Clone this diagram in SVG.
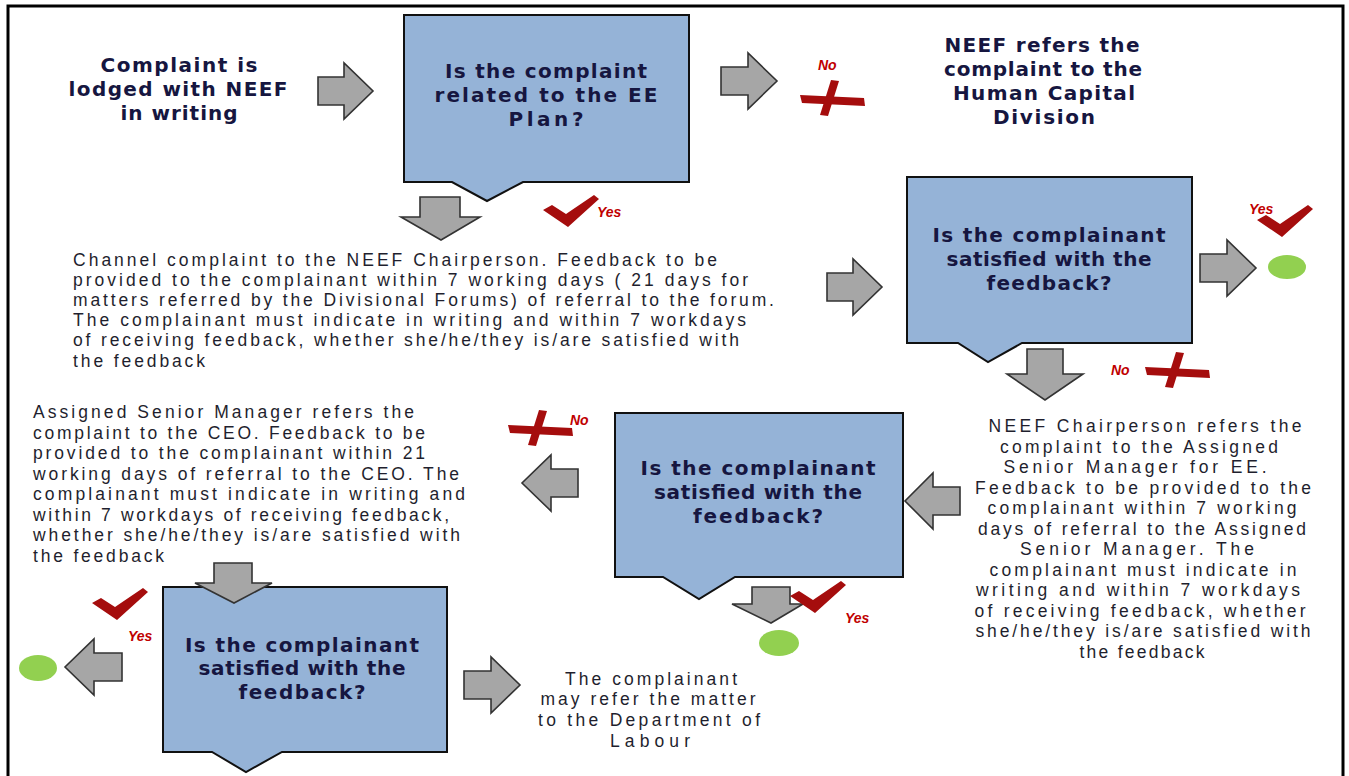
<svg xmlns="http://www.w3.org/2000/svg" width="1349" height="776" viewBox="0 0 1349 776">
<style>
.frame{fill:none;stroke:#000;stroke-width:3}
.box{fill:#95b3d7;stroke:#111;stroke-width:2}
.arr{fill:#a6a6a6;stroke:#333;stroke-width:1.6;stroke-linejoin:miter}
.bold{font-family:"DejaVu Sans",Verdana,sans-serif;font-weight:bold;font-size:20px;fill:#161640;text-anchor:middle}
.para{font-family:"Liberation Sans",Arial,sans-serif;font-size:17.5px;fill:#1f1f2e}
.mid{text-anchor:middle}
.lbl{font-family:"Liberation Sans",Arial,sans-serif;font-weight:bold;font-style:italic;font-size:14px;fill:#c00000}
.mark{fill:#a50d0d}
.end{fill:#92d050}
</style>
<defs>
<path id="check" d="M0,15 L9,10 L23,19 L51,0 L56,4 L25,32 Z"/>
<g id="cross">
<path d="M0,15 L64,18 L65,26 L2,23 Z"/>
<path d="M31,0 L39,1 L28,36 L20,35 Z"/>
</g>
</defs>
<rect class="frame" x="8" y="6" width="1335" height="800"/>

<g id="start">
<text class="bold"><tspan x="179" y="72" textLength="157">Complaint is</tspan><tspan x="178" y="96" textLength="219">lodged with NEEF</tspan><tspan x="179" y="120" textLength="117">in writing</tspan></text>
</g>

<g id="q1">
<path class="box" d="M404,15 H689 V182 H523 L487,201 L452,182 H404 Z"/>
<text class="bold"><tspan x="546" y="78" textLength="202">Is the complaint</tspan><tspan x="546" y="102" textLength="223">related to the EE</tspan><tspan x="546" y="126" textLength="75">Plan?</tspan></text>
</g>

<g id="hcd">
<text class="bold"><tspan x="1042" y="52" textLength="195">NEEF refers the</tspan><tspan x="1043" y="76" textLength="198">complaint to the</tspan><tspan x="1044" y="100" textLength="182">Human Capital</tspan><tspan x="1044" y="124" textLength="102">Division</tspan></text>
</g>

<g id="chair">
<text class="para"><tspan x="73" y="266" textLength="644">Channel complaint to the NEEF Chairperson. Feedback to be</tspan><tspan x="73" y="286" textLength="675">provided to the complainant within 7 working days ( 21 days for</tspan><tspan x="73" y="306" textLength="701">matters referred by the Divisional Forums) of referral to the forum.</tspan><tspan x="73" y="326" textLength="673">The complainant must indicate in writing and within 7 workdays</tspan><tspan x="73" y="346" textLength="666">of receiving feedback, whether she/he/they is/are satisfied with</tspan><tspan x="73" y="367" textLength="132">the feedback</tspan></text>
</g>

<g id="q2">
<path class="box" d="M907,177 H1192 V343 H1022 L988,362 L958,343 H907 Z"/>
<text class="bold"><tspan x="1049" y="242" textLength="233">Is the complainant</tspan><tspan x="1049" y="266" textLength="205">satisfied with the</tspan><tspan x="1049" y="290" textLength="125">feedback?</tspan></text>
</g>

<g id="end1"><ellipse class="end" cx="1287" cy="267" rx="19" ry="12"/></g>

<g id="senior">
<text class="para mid"><tspan x="1145" y="432" textLength="313">NEEF Chairperson refers the</tspan><tspan x="1139" y="452.5" textLength="278">complaint to the Assigned</tspan><tspan x="1135" y="473" textLength="263">Senior Manager for EE.</tspan><tspan x="1143" y="493.5" textLength="336">Feedback to be provided to the</tspan><tspan x="1142" y="514" textLength="309">complainant within 7 working</tspan><tspan x="1142" y="534.5" textLength="328">days of referral to the Assigned</tspan><tspan x="1137" y="555" textLength="234">Senior Manager.  The</tspan><tspan x="1143" y="575.5" textLength="307">complainant must indicate in</tspan><tspan x="1138" y="596" textLength="324">writing and within 7 workdays</tspan><tspan x="1140" y="616.5" textLength="331">of receiving feedback, whether</tspan><tspan x="1143" y="637" textLength="335">she/he/they is/are satisfied with</tspan><tspan x="1142" y="657.5" textLength="125">the feedback</tspan></text>
</g>

<g id="q3">
<path class="box" d="M615,413 H903 V577 H735 L699,599 L663,577 H615 Z"/>
<text class="bold"><tspan x="758" y="475" textLength="235">Is the complainant</tspan><tspan x="758" y="499" textLength="208">satisfied with the</tspan><tspan x="758" y="523" textLength="130">feedback?</tspan></text>
</g>

<g id="end2"><ellipse class="end" cx="779" cy="643" rx="20" ry="13"/></g>

<g id="ceo">
<text class="para"><tspan x="33" y="418" textLength="381">Assigned Senior Manager refers the</tspan><tspan x="33" y="438.5" textLength="392">complaint to the CEO. Feedback to be</tspan><tspan x="33" y="459" textLength="392">provided to the complainant within 21</tspan><tspan x="33" y="479.5" textLength="426">working days of referral to the CEO. The</tspan><tspan x="33" y="500" textLength="432">complainant must indicate in writing and</tspan><tspan x="33" y="520.5" textLength="416">within 7 workdays of receiving feedback,</tspan><tspan x="33" y="541" textLength="427">whether she/he/they is/are satisfied with</tspan><tspan x="33" y="561.5" textLength="131">the feedback</tspan></text>
</g>

<g id="q4">
<path class="box" d="M163,587 H447 V752 H282 L246,772 L212,752 H163 Z"/>
<text class="bold"><tspan x="302" y="652" textLength="234">Is the complainant</tspan><tspan x="302" y="675" textLength="207">satisfied with the</tspan><tspan x="302" y="699" textLength="127">feedback?</tspan></text>
</g>

<g id="end3"><ellipse class="end" cx="38" cy="668" rx="19" ry="13"/></g>

<g id="labour">
<text class="para mid"><tspan x="651" y="685" textLength="172">The complainant</tspan><tspan x="648" y="705" textLength="215">may refer the matter</tspan><tspan x="649" y="726" textLength="222">to the Department of</tspan><tspan x="650" y="747" textLength="80">Labour</tspan></text>
</g>

<g id="connectors">
<path class="arr" d="M318,77 H344 V63 L373,91 L344,119 V105 H318 Z"/>
<path class="arr" d="M721,67 H748 V53 L777,81 L748,109 V95 H721 Z"/>
<path class="arr" d="M420,197 H460 V217 H480 L441,240 L401,217 H420 Z"/>
<path class="arr" d="M827,273 H853 V259 L882,287 L853,315 V301 H827 Z"/>
<path class="arr" d="M1200,254 H1227 V240 L1256,268 L1227,296 V282 H1200 Z"/>
<path class="arr" d="M1027,349 H1063 V374 H1083 L1045,400 L1007,374 H1027 Z"/>
<path class="arr" d="M960,487 H933 V473 L905,501 L933,529 V515 H960 Z"/>
<path class="arr" d="M578,469 H551 V455 L522,483 L551,511 V497 H578 Z"/>
<path class="arr" d="M752,587 H790 V604 H803 L771,623 L732,604 H752 Z"/>
<path class="arr" d="M214,563 H252 V583 H272 L234,603 L195,583 H214 Z"/>
<path class="arr" d="M122,653 H94 V639 L65,667 L94,695 V681 H122 Z"/>
<path class="arr" d="M464,671 H491 V657 L520,685 L491,713 V699 H464 Z"/>
</g>

<g id="decisions">
<use href="#cross" class="mark" x="800" y="80"/>
<text class="lbl" x="818" y="70">No</text>
<use href="#check" class="mark" x="543" y="195"/>
<text class="lbl" x="597" y="217">Yes</text>
<use href="#check" class="mark" x="1257" y="205"/>
<text class="lbl" x="1249" y="214">Yes</text>
<use href="#cross" class="mark" x="1145" y="352"/>
<text class="lbl" x="1111" y="375">No</text>
<use href="#cross" class="mark" x="508" y="410"/>
<text class="lbl" x="570" y="425">No</text>
<use href="#check" class="mark" x="790" y="581"/>
<text class="lbl" x="845" y="623">Yes</text>
<use href="#check" class="mark" x="92" y="588"/>
<text class="lbl" x="128" y="641">Yes</text>
</g>
</svg>
